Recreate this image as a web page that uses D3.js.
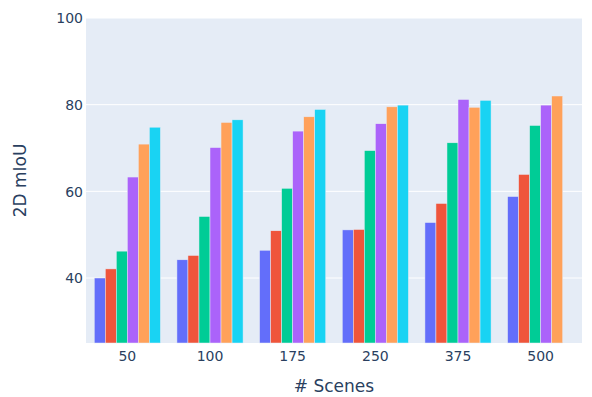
<!DOCTYPE html>
<html>
<head>
<meta charset="utf-8">
<script src="https://cdn.jsdelivr.net/npm/d3@7"></script>
<style>
  html, body { margin: 0; padding: 0; background: #fff; }
  svg { display: block; }
  text { font-family: "DejaVu Sans", Verdana, sans-serif; fill: #2a3f5f; }
</style>
</head>
<body>
<svg id="chart" width="592" height="397"></svg>
<script>
const categories = ["50", "100", "175", "250", "375", "500"];
const seriesNames = ["s1", "s2", "s3", "s4", "s5", "s6"];
const s1 = [40.0, 44.2, 46.4, 51.1, 52.8, 58.8];
const s2 = [42.1, 45.2, 50.9, 51.2, 57.2, 63.9];
const s3 = [46.2, 54.2, 60.7, 69.4, 71.2, 75.2];
const s4 = [63.3, 70.1, 73.9, 75.6, 81.2, 79.9];
const s5 = [70.9, 75.9, 77.2, 79.5, 79.4, 82.0];
const s6 = [74.8, 76.5, 78.9, 79.9, 81.0, null];
const seriesValues = [s1, s2, s3, s4, s5, s6];
const colors = ["#636efa", "#EF553B", "#00cc96", "#ab63fa", "#FFA15A", "#19d3f3"];
const yTicks = [40, 60, 80, 100];
const yDomain = [25, 100];
const xTitle = "# Scenes";
const yTitle = "2D mIoU";

const svg = d3.select("#chart");
const m = { left: 86, right: 10, top: 18, bottom: 54 };
const W = 592, H = 397;
const pw = W - m.left - m.right, ph = H - m.top - m.bottom;

const x = d3.scaleBand().domain(categories).range([m.left, m.left + pw]).paddingInner(0.2).paddingOuter(0.1);
const xs = d3.scaleBand().domain(seriesNames).range([0, x.bandwidth()]);
const y = d3.scaleLinear().domain(yDomain).range([m.top + ph, m.top]);

svg.append("rect").attr("x", m.left).attr("y", m.top).attr("width", pw).attr("height", ph).attr("fill", "#E5ECF6");

// gridlines
svg.append("g").selectAll("line").data(yTicks).join("line")
  .attr("x1", m.left).attr("x2", m.left + pw)
  .attr("y1", d => y(d)).attr("y2", d => y(d))
  .attr("stroke", "#fff").attr("stroke-width", 1);

// bars
const data = [];
seriesValues.forEach((vals, si) => {
  vals.forEach((v, ci) => {
    if (v != null) data.push({ s: seriesNames[si], c: categories[ci], v, color: colors[si] });
  });
});
svg.append("g").selectAll("rect").data(data).join("rect")
  .attr("x", d => x(d.c) + xs(d.s))
  .attr("width", xs.bandwidth())
  .attr("y", d => y(d.v))
  .attr("height", d => y(yDomain[0]) - y(d.v))
  .attr("fill", d => d.color)
  .attr("stroke", "#E5ECF6").attr("stroke-width", 0.5);

// y axis
const yAxis = d3.axisLeft(y).tickValues(yTicks).tickSize(0).tickPadding(4);
const gy = svg.append("g").attr("transform", `translate(${m.left - 0},0)`).call(yAxis);
gy.select(".domain").remove();
gy.selectAll("text").style("font-size", "14px").attr("fill", "#2a3f5f").attr("dy", "0.35em").attr("x", -3);

// x axis
const xAxis = d3.axisBottom(x).tickSize(0).tickPadding(8);
const gx = svg.append("g").attr("transform", `translate(0,${m.top + ph})`).call(xAxis);
gx.select(".domain").remove();
gx.selectAll("text").style("font-size", "14px").attr("fill", "#2a3f5f");

// titles
svg.append("text").attr("x", m.left + pw / 2).attr("y", 392)
  .attr("text-anchor", "middle").style("font-size", "17px").text(xTitle);
svg.append("text").attr("transform", `translate(26,${m.top + ph / 2}) rotate(-90)`)
  .attr("text-anchor", "middle").style("font-size", "17px").text(yTitle);
</script>
</body>
</html>
